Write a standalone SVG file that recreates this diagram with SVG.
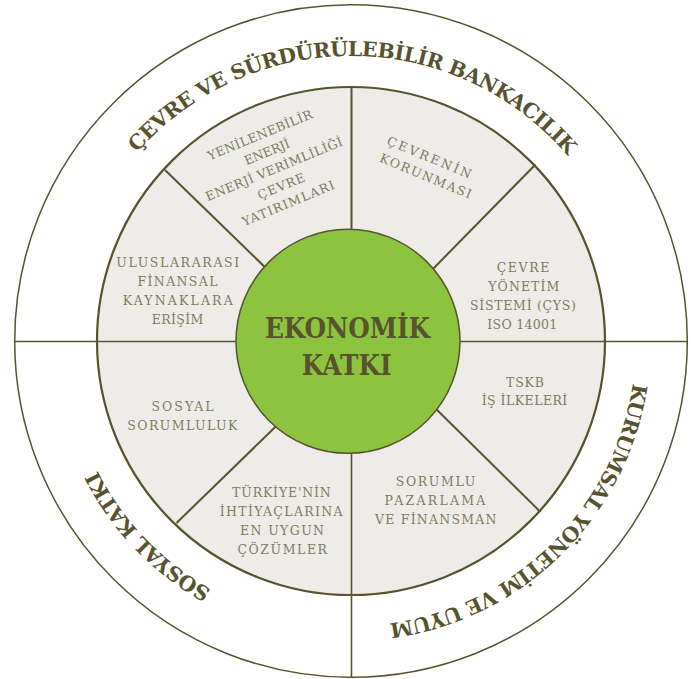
<svg xmlns="http://www.w3.org/2000/svg" width="691" height="679" viewBox="0 0 691 679">
<style>
.ln{stroke:#58532e;fill:none}
.sec{font-family:"DejaVu Serif","Liberation Serif",serif;font-size:12.5px;fill:#7e7c62;text-anchor:middle}
.ring{font-family:"DejaVu Serif","Liberation Serif",serif;font-weight:bold;font-size:20.5px;letter-spacing:-0.5px;fill:#58532e}
.core{font-family:"DejaVu Serif Condensed","DejaVu Serif",serif;font-weight:bold;font-size:27.5px;fill:#58532e;text-anchor:middle}
</style>
<defs>
<path id="tp" d="M636,341 A285,285 0 1 1 66,341 A285,285 0 1 1 636,341"/>
</defs>
<g id="outer-ring">
<circle cx="351" cy="341" r="336.3" fill="#ffffff" stroke="#58532e" stroke-width="1.5"/>
</g>
<g id="inner-ring">
<circle cx="351" cy="341" r="254" fill="#edece8" stroke="#58532e" stroke-width="2.2"/>
</g>
<g id="connectors" class="ln">
<line x1="15" y1="341.5" x2="687" y2="341.5" stroke-width="1.6"/>
<line x1="351.5" y1="87" x2="351.5" y2="240" stroke-width="2"/>
<line x1="351.5" y1="440" x2="351.5" y2="677.5" stroke-width="1.6"/>
<line x1="165" y1="170" x2="272" y2="274" stroke-width="2"/>
<line x1="535.5" y1="164.5" x2="428" y2="274" stroke-width="2"/>
<line x1="176.5" y1="523" x2="282" y2="420.5" stroke-width="2"/>
<line x1="540.5" y1="512" x2="430" y2="403" stroke-width="2"/>
</g>
<g id="center">
<circle cx="348" cy="341.3" r="112" fill="#8cc43f" stroke="#58532e" stroke-width="1.5"/>
<text class="core" x="347.5" y="338.3" textLength="165">EKONOMİK</text>
<text class="core" x="346.7" y="375" textLength="90">KATKI</text>
</g>
<g id="ring-cevre">
<text class="ring" text-anchor="middle"><textPath href="#tp" startOffset="75.1%">ÇEVRE VE SÜRDÜRÜLEBİLİR BANKACILIK</textPath></text>
</g>
<g id="ring-kurumsal">
<text class="ring" text-anchor="middle"><textPath href="#tp" startOffset="12.6%">KURUMSAL YÖNETİM VE UYUM</textPath></text>
</g>
<g id="ring-sosyal">
<text class="ring" text-anchor="middle"><textPath href="#tp" startOffset="37.8%">SOSYAL KATKI</textPath></text>
</g>
<g id="s-yenilenebilir" transform="rotate(-22.5)">
<text class="sec" x="188.5" y="228.5" textLength="112">YENİLENEBİLİR</text>
<text class="sec" x="188.5" y="247" textLength="48">ENERJİ</text>
<text class="sec" x="188.5" y="265.5" textLength="147">ENERJİ VERİMLİLİĞİ</text>
<text class="sec" x="188.5" y="284" textLength="50">ÇEVRE</text>
<text class="sec" x="188.5" y="302.5" textLength="99">YATIRIMLARI</text>
</g>
<g id="s-cevrenin" transform="rotate(22.5)">
<text class="sec" style="text-anchor:start" x="411.7" y="-14.5" textLength="90">ÇEVRENİN</text>
<text class="sec" style="text-anchor:start" x="411.7" y="4" textLength="98">KORUNMASI</text>
</g>
<g id="s-uluslararasi">
<text class="sec" x="177.7" y="266.7" textLength="123">ULUSLARARASI</text>
<text class="sec" x="177.5" y="286" textLength="80">FİNANSAL</text>
<text class="sec" x="177.7" y="305" textLength="110">KAYNAKLARA</text>
<text class="sec" x="177.5" y="324" textLength="51.6">ERİŞİM</text>
</g>
<g id="s-cys">
<text class="sec" x="523" y="271.7" textLength="52.6">ÇEVRE</text>
<text class="sec" x="523.8" y="290.7" textLength="71">YÖNETİM</text>
<text class="sec" x="523" y="310" textLength="106">SİSTEMİ (ÇYS)</text>
<text class="sec" x="522.3" y="329" textLength="70">ISO 14001</text>
</g>
<g id="s-tskb">
<text class="sec" x="525" y="387.3" textLength="38">TSKB</text>
<text class="sec" x="524.5" y="405" textLength="85.6">İŞ İLKELERİ</text>
</g>
<g id="s-sosyal">
<text class="sec" x="182.5" y="411" textLength="62">SOSYAL</text>
<text class="sec" x="182.3" y="430" textLength="110">SORUMLULUK</text>
</g>
<g id="s-turkiye">
<text class="sec" x="281.4" y="496.7" textLength="98.7">TÜRKİYE'NİN</text>
<text class="sec" x="281.2" y="515.7" textLength="122.9">İHTİYAÇLARINA</text>
<text class="sec" x="282" y="535" textLength="84">EN UYGUN</text>
<text class="sec" x="282.2" y="554.3" textLength="89.6">ÇÖZÜMLER</text>
</g>
<g id="s-sorumlu">
<text class="sec" x="435.5" y="486" textLength="79.5">SORUMLU</text>
<text class="sec" x="435" y="505" textLength="100.8">PAZARLAMA</text>
<text class="sec" x="435.7" y="524" textLength="121.6">VE FİNANSMAN</text>
</g>
</svg>
